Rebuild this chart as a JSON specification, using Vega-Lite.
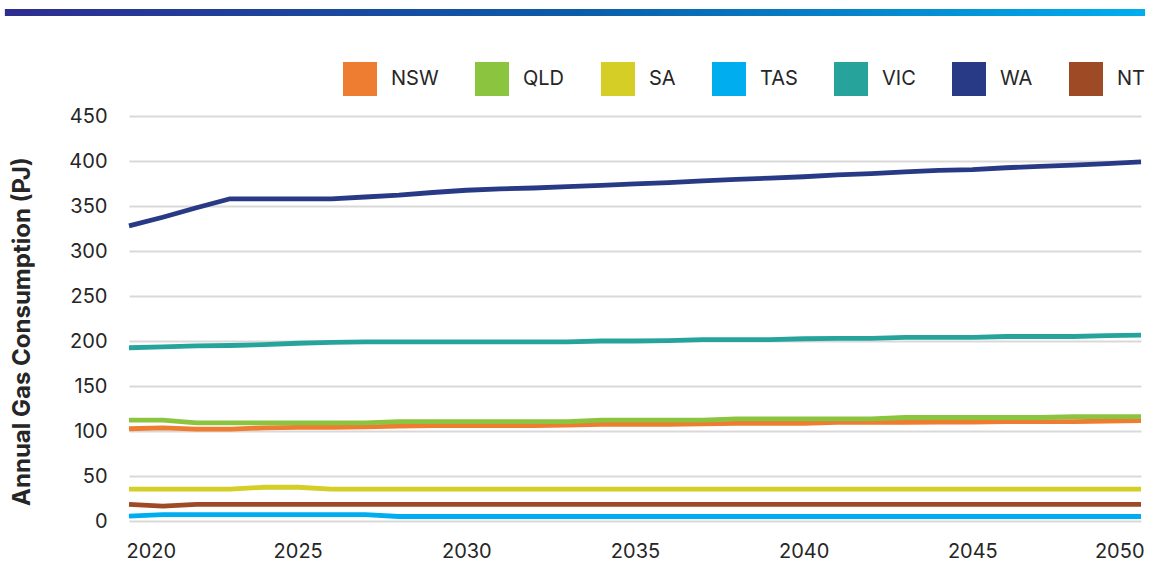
{
  "$schema": "https://vega.github.io/schema/vega-lite/v6.json",
  "width": 1012,
  "height": 405,
  "autosize": {"type": "none"},
  "padding": {"left": 129, "top": 116, "right": 12, "bottom": 46},
  "background": "white",
  "config": {"font": "Inter", "view": {"stroke": null}},
  "datasets": {
    "gas": [
      {"year":2020,"state":"NSW","pj":102.5},{"year":2021,"state":"NSW","pj":103.5},{"year":2022,"state":"NSW","pj":102},{"year":2023,"state":"NSW","pj":102},{"year":2024,"state":"NSW","pj":103.5},{"year":2025,"state":"NSW","pj":104},{"year":2026,"state":"NSW","pj":104},{"year":2027,"state":"NSW","pj":104.5},{"year":2028,"state":"NSW","pj":105.5},{"year":2029,"state":"NSW","pj":106},{"year":2030,"state":"NSW","pj":106},{"year":2031,"state":"NSW","pj":106},{"year":2032,"state":"NSW","pj":106},{"year":2033,"state":"NSW","pj":106.5},{"year":2034,"state":"NSW","pj":107.5},{"year":2035,"state":"NSW","pj":107.5},{"year":2036,"state":"NSW","pj":107.5},{"year":2037,"state":"NSW","pj":108},{"year":2038,"state":"NSW","pj":108.5},{"year":2039,"state":"NSW","pj":108.5},{"year":2040,"state":"NSW","pj":108.5},{"year":2041,"state":"NSW","pj":109.5},{"year":2042,"state":"NSW","pj":109.5},{"year":2043,"state":"NSW","pj":109.5},{"year":2044,"state":"NSW","pj":110},{"year":2045,"state":"NSW","pj":110},{"year":2046,"state":"NSW","pj":110.5},{"year":2047,"state":"NSW","pj":110.5},{"year":2048,"state":"NSW","pj":110.5},{"year":2049,"state":"NSW","pj":111},{"year":2050,"state":"NSW","pj":111.5},
      {"year":2020,"state":"QLD","pj":112},{"year":2021,"state":"QLD","pj":112},{"year":2022,"state":"QLD","pj":109},{"year":2023,"state":"QLD","pj":109},{"year":2024,"state":"QLD","pj":109},{"year":2025,"state":"QLD","pj":109},{"year":2026,"state":"QLD","pj":109},{"year":2027,"state":"QLD","pj":109},{"year":2028,"state":"QLD","pj":110.5},{"year":2029,"state":"QLD","pj":110.5},{"year":2030,"state":"QLD","pj":110.5},{"year":2031,"state":"QLD","pj":110.5},{"year":2032,"state":"QLD","pj":110.5},{"year":2033,"state":"QLD","pj":110.5},{"year":2034,"state":"QLD","pj":112},{"year":2035,"state":"QLD","pj":112},{"year":2036,"state":"QLD","pj":112},{"year":2037,"state":"QLD","pj":112},{"year":2038,"state":"QLD","pj":113.5},{"year":2039,"state":"QLD","pj":113.5},{"year":2040,"state":"QLD","pj":113.5},{"year":2041,"state":"QLD","pj":113.5},{"year":2042,"state":"QLD","pj":113.5},{"year":2043,"state":"QLD","pj":115},{"year":2044,"state":"QLD","pj":115},{"year":2045,"state":"QLD","pj":115},{"year":2046,"state":"QLD","pj":115},{"year":2047,"state":"QLD","pj":115},{"year":2048,"state":"QLD","pj":116},{"year":2049,"state":"QLD","pj":116},{"year":2050,"state":"QLD","pj":116},
      {"year":2020,"state":"SA","pj":35.5},{"year":2021,"state":"SA","pj":35.5},{"year":2022,"state":"SA","pj":35.5},{"year":2023,"state":"SA","pj":35.5},{"year":2024,"state":"SA","pj":37.5},{"year":2025,"state":"SA","pj":37.5},{"year":2026,"state":"SA","pj":35.5},{"year":2027,"state":"SA","pj":35.5},{"year":2028,"state":"SA","pj":35.5},{"year":2029,"state":"SA","pj":35.5},{"year":2030,"state":"SA","pj":35.5},{"year":2031,"state":"SA","pj":35.5},{"year":2032,"state":"SA","pj":35.5},{"year":2033,"state":"SA","pj":35.5},{"year":2034,"state":"SA","pj":35.5},{"year":2035,"state":"SA","pj":35.5},{"year":2036,"state":"SA","pj":35.5},{"year":2037,"state":"SA","pj":35.5},{"year":2038,"state":"SA","pj":35.5},{"year":2039,"state":"SA","pj":35.5},{"year":2040,"state":"SA","pj":35.5},{"year":2041,"state":"SA","pj":35.5},{"year":2042,"state":"SA","pj":35.5},{"year":2043,"state":"SA","pj":35.5},{"year":2044,"state":"SA","pj":35.5},{"year":2045,"state":"SA","pj":35.5},{"year":2046,"state":"SA","pj":35.5},{"year":2047,"state":"SA","pj":35.5},{"year":2048,"state":"SA","pj":35.5},{"year":2049,"state":"SA","pj":35.5},{"year":2050,"state":"SA","pj":35.5},
      {"year":2020,"state":"TAS","pj":5.5},{"year":2021,"state":"TAS","pj":7},{"year":2022,"state":"TAS","pj":7},{"year":2023,"state":"TAS","pj":7},{"year":2024,"state":"TAS","pj":7},{"year":2025,"state":"TAS","pj":7},{"year":2026,"state":"TAS","pj":7},{"year":2027,"state":"TAS","pj":7},{"year":2028,"state":"TAS","pj":5},{"year":2029,"state":"TAS","pj":5},{"year":2030,"state":"TAS","pj":5},{"year":2031,"state":"TAS","pj":5},{"year":2032,"state":"TAS","pj":5},{"year":2033,"state":"TAS","pj":5},{"year":2034,"state":"TAS","pj":5},{"year":2035,"state":"TAS","pj":5},{"year":2036,"state":"TAS","pj":5},{"year":2037,"state":"TAS","pj":5},{"year":2038,"state":"TAS","pj":5},{"year":2039,"state":"TAS","pj":5},{"year":2040,"state":"TAS","pj":5},{"year":2041,"state":"TAS","pj":5},{"year":2042,"state":"TAS","pj":5},{"year":2043,"state":"TAS","pj":5},{"year":2044,"state":"TAS","pj":5},{"year":2045,"state":"TAS","pj":5},{"year":2046,"state":"TAS","pj":5},{"year":2047,"state":"TAS","pj":5},{"year":2048,"state":"TAS","pj":5},{"year":2049,"state":"TAS","pj":5},{"year":2050,"state":"TAS","pj":5},
      {"year":2020,"state":"VIC","pj":192.5},{"year":2021,"state":"VIC","pj":193.5},{"year":2022,"state":"VIC","pj":194.5},{"year":2023,"state":"VIC","pj":195},{"year":2024,"state":"VIC","pj":196},{"year":2025,"state":"VIC","pj":197.5},{"year":2026,"state":"VIC","pj":198.5},{"year":2027,"state":"VIC","pj":199},{"year":2028,"state":"VIC","pj":199},{"year":2029,"state":"VIC","pj":199},{"year":2030,"state":"VIC","pj":199},{"year":2031,"state":"VIC","pj":199},{"year":2032,"state":"VIC","pj":199},{"year":2033,"state":"VIC","pj":199},{"year":2034,"state":"VIC","pj":200},{"year":2035,"state":"VIC","pj":200},{"year":2036,"state":"VIC","pj":200.5},{"year":2037,"state":"VIC","pj":201.5},{"year":2038,"state":"VIC","pj":201.5},{"year":2039,"state":"VIC","pj":201.5},{"year":2040,"state":"VIC","pj":202.5},{"year":2041,"state":"VIC","pj":203},{"year":2042,"state":"VIC","pj":203},{"year":2043,"state":"VIC","pj":204},{"year":2044,"state":"VIC","pj":204},{"year":2045,"state":"VIC","pj":204},{"year":2046,"state":"VIC","pj":205},{"year":2047,"state":"VIC","pj":205},{"year":2048,"state":"VIC","pj":205},{"year":2049,"state":"VIC","pj":206},{"year":2050,"state":"VIC","pj":206.5},
      {"year":2020,"state":"WA","pj":328},{"year":2021,"state":"WA","pj":337.5},{"year":2022,"state":"WA","pj":348},{"year":2023,"state":"WA","pj":358},{"year":2024,"state":"WA","pj":358},{"year":2025,"state":"WA","pj":358},{"year":2026,"state":"WA","pj":358},{"year":2027,"state":"WA","pj":360},{"year":2028,"state":"WA","pj":362},{"year":2029,"state":"WA","pj":365},{"year":2030,"state":"WA","pj":367.5},{"year":2031,"state":"WA","pj":369},{"year":2032,"state":"WA","pj":370},{"year":2033,"state":"WA","pj":371.5},{"year":2034,"state":"WA","pj":373},{"year":2035,"state":"WA","pj":374.5},{"year":2036,"state":"WA","pj":376},{"year":2037,"state":"WA","pj":378},{"year":2038,"state":"WA","pj":379.5},{"year":2039,"state":"WA","pj":381},{"year":2040,"state":"WA","pj":382.5},{"year":2041,"state":"WA","pj":384.5},{"year":2042,"state":"WA","pj":386},{"year":2043,"state":"WA","pj":388},{"year":2044,"state":"WA","pj":389.5},{"year":2045,"state":"WA","pj":390.5},{"year":2046,"state":"WA","pj":392.5},{"year":2047,"state":"WA","pj":394},{"year":2048,"state":"WA","pj":395.5},{"year":2049,"state":"WA","pj":397},{"year":2050,"state":"WA","pj":399},
      {"year":2020,"state":"NT","pj":18.5},{"year":2021,"state":"NT","pj":16.5},{"year":2022,"state":"NT","pj":18.5},{"year":2023,"state":"NT","pj":18.5},{"year":2024,"state":"NT","pj":18.5},{"year":2025,"state":"NT","pj":18.5},{"year":2026,"state":"NT","pj":18.5},{"year":2027,"state":"NT","pj":18.5},{"year":2028,"state":"NT","pj":18.5},{"year":2029,"state":"NT","pj":18.5},{"year":2030,"state":"NT","pj":18.5},{"year":2031,"state":"NT","pj":18.5},{"year":2032,"state":"NT","pj":18.5},{"year":2033,"state":"NT","pj":18.5},{"year":2034,"state":"NT","pj":18.5},{"year":2035,"state":"NT","pj":18.5},{"year":2036,"state":"NT","pj":18.5},{"year":2037,"state":"NT","pj":18.5},{"year":2038,"state":"NT","pj":18.5},{"year":2039,"state":"NT","pj":18.5},{"year":2040,"state":"NT","pj":18.5},{"year":2041,"state":"NT","pj":18.5},{"year":2042,"state":"NT","pj":18.5},{"year":2043,"state":"NT","pj":18.5},{"year":2044,"state":"NT","pj":18.5},{"year":2045,"state":"NT","pj":18.5},{"year":2046,"state":"NT","pj":18.5},{"year":2047,"state":"NT","pj":18.5},{"year":2048,"state":"NT","pj":18.5},{"year":2049,"state":"NT","pj":18.5},{"year":2050,"state":"NT","pj":18.5}
    ]
  },
  "layer": [
    {
      "data": {"values": [{}]},
      "mark": {
        "type": "rect",
        "clip": false,
        "fill": {
          "gradient": "linear", "x1": 0, "y1": 0, "x2": 1, "y2": 0,
          "stops": [
            {"offset": 0, "color": "#2E2D8F"},
            {"offset": 0.5, "color": "#0B5CA8"},
            {"offset": 1, "color": "#00AEEF"}
          ]
        }
      },
      "encoding": {
        "x": {"datum": 2016.32, "type": "quantitative", "scale": {"domain": [2020, 2050], "nice": false}},
        "x2": {"datum": 2050.12},
        "y": {"datum": 569, "type": "quantitative", "scale": {"domain": [0, 450], "nice": false}},
        "y2": {"datum": 561}
      }
    },
    {
      "data": {"name": "gas"},
      "mark": {"type": "line", "strokeWidth": 4.8, "strokeJoin": "round"},
      "encoding": {
        "x": {
          "field": "year", "type": "quantitative",
          "scale": {"domain": [2020, 2050], "nice": false},
          "axis": {
            "values": [2020, 2025, 2030, 2035, 2040, 2045, 2050],
            "format": "d", "labelFlush": true, "labelFlushOffset": 3, "grid": false, "domain": false, "ticks": false,
            "title": null, "labelFontSize": 20, "labelPadding": 20, "labelColor": "#262626"
          }
        },
        "y": {
          "field": "pj", "type": "quantitative",
          "scale": {"domain": [0, 450], "nice": false},
          "axis": {
            "values": [0, 50, 100, 150, 200, 250, 300, 350, 400, 450],
            "grid": true, "gridColor": "#D9D9D9", "gridWidth": 2, "domain": false, "ticks": false,
            "labelFontSize": 20, "labelPadding": 22, "labelColor": "#262626",
            "title": "Annual Gas Consumption (PJ)", "titleFontSize": 24, "titleFontWeight": "bold",
            "titleColor": "#262626", "titleX": -107, "titleY": 215, "titleAngle": -90,
            "titleAlign": "center", "titleBaseline": "middle"
          }
        },
        "color": {
          "field": "state", "type": "nominal",
          "scale": {
            "domain": ["NSW", "QLD", "SA", "TAS", "VIC", "WA", "NT"],
            "range": ["#EE7D31", "#8BC53F", "#D4CE27", "#00AEEF", "#26A49C", "#283A85", "#9D4A25"]
          },
          "legend": {
            "orient": "none", "legendX": 214, "legendY": -54, "direction": "horizontal",
            "title": null, "symbolType": "square", "symbolSize": 1156, "symbolStrokeWidth": 0,
            "labelFontSize": 20, "labelOffset": 14, "columnPadding": 36, "labelColor": "#262626",
            "encode": {
              "symbols": {"update": {"fill": {"scale": "color", "field": "value"}, "strokeWidth": {"value": 0}}}
            }
          }
        }
      }
    }
  ]
}
